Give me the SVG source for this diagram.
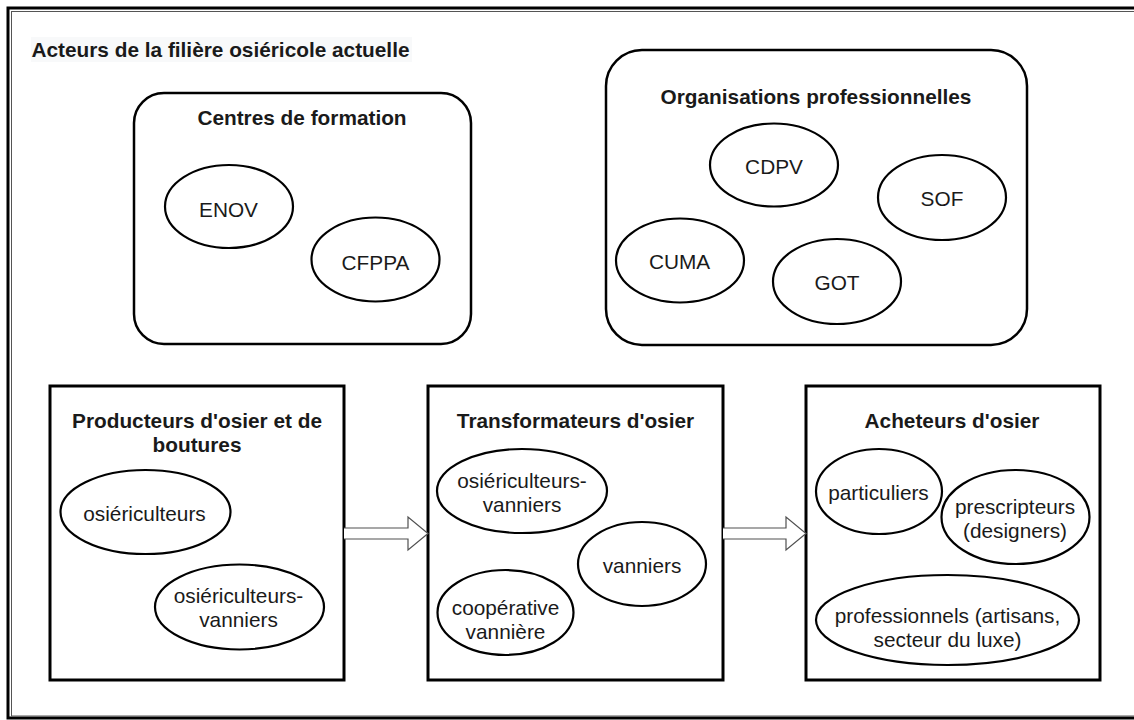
<svg xmlns="http://www.w3.org/2000/svg" width="1134" height="720" viewBox="0 0 1134 720">
<style>
text{font-family:"Liberation Sans",Arial,sans-serif;fill:#1a1a1a;text-anchor:middle}
.t{font-size:20.8px;font-weight:bold}
.l{font-size:20.8px}
.ell{fill:#fff;stroke:#000;stroke-width:2.2}
.box{fill:#fff;stroke:#000;stroke-width:3}
.grp{fill:#fff;stroke:#000;stroke-width:2.5}
.arr{fill:#fff;stroke:#505050;stroke-width:1.2}
</style>
<rect x="0" y="0" width="1134" height="720" fill="#fff"/>
<rect x="8" y="8" width="1140" height="710" fill="none" stroke="#000" stroke-width="3"/>
<rect x="11.5" y="11.5" width="1130" height="704.5" fill="none" stroke="#555" stroke-width="1"/>
<g id="title">
<rect x="31" y="37" width="381" height="25" fill="#f8f9fa"/>
<text class="t" x="31.5" y="56.5" style="text-anchor:start">Acteurs de la filière osiéricole actuelle</text>
</g>
<g id="centres">
<rect class="grp" x="134" y="93" width="337" height="251" rx="30" ry="30"/>
<text class="t" x="302" y="125">Centres de formation</text>
</g>
<g id="enov"><ellipse class="ell" cx="229" cy="206.5" rx="64" ry="41.5"/><text class="l" x="228.5" y="216.5">ENOV</text></g>
<g id="cfppa"><ellipse class="ell" cx="375.5" cy="259.5" rx="64" ry="42"/><text class="l" x="375.5" y="269.5">CFPPA</text></g>
<g id="organisations">
<rect class="grp" x="606" y="50" width="421" height="295" rx="36" ry="36"/>
<text class="t" x="816" y="104">Organisations professionnelles</text>
</g>
<g id="cdpv"><ellipse class="ell" cx="774" cy="165" rx="64" ry="41.5"/><text class="l" x="774" y="174">CDPV</text></g>
<g id="sof"><ellipse class="ell" cx="942" cy="197.5" rx="64" ry="42.5"/><text class="l" x="942" y="205.5">SOF</text></g>
<g id="cuma"><ellipse class="ell" cx="680" cy="260.5" rx="64" ry="42"/><text class="l" x="679.5" y="268.5">CUMA</text></g>
<g id="got"><ellipse class="ell" cx="837" cy="281.5" rx="64" ry="42.5"/><text class="l" x="837" y="290">GOT</text></g>
<g id="producteurs">
<rect class="box" x="50" y="386" width="294" height="294"/>
<text class="t" x="197" y="427.5">Producteurs d'osier et de</text>
<text class="t" x="197" y="452">boutures</text>
</g>
<g id="prod-osiericulteurs"><ellipse class="ell" cx="145.5" cy="512" rx="85" ry="42"/><text class="l" x="144.5" y="520.5">osiériculteurs</text></g>
<g id="prod-osiericulteurs-vanniers"><ellipse class="ell" cx="239.5" cy="607" rx="84.5" ry="42.5"/><text class="l" x="238.5" y="603">osiériculteurs-</text><text class="l" x="238.5" y="627">vanniers</text></g>
<g id="transformateurs">
<rect class="box" x="428" y="386" width="295" height="294"/>
<text class="t" x="575.5" y="427.5">Transformateurs d'osier</text>
</g>
<g id="trans-osiericulteurs-vanniers"><ellipse class="ell" cx="522" cy="491" rx="85" ry="42"/><text class="l" x="522" y="488">osiériculteurs-</text><text class="l" x="522" y="512">vanniers</text></g>
<g id="vanniers"><ellipse class="ell" cx="642" cy="564" rx="64" ry="42"/><text class="l" x="642" y="573">vanniers</text></g>
<g id="cooperative"><ellipse class="ell" cx="505.5" cy="612.5" rx="68" ry="42.5"/><text class="l" x="505.5" y="614.5">coopérative</text><text class="l" x="505.5" y="638.5">vannière</text></g>
<g id="acheteurs">
<rect class="box" x="806" y="386" width="294" height="294"/>
<text class="t" x="952" y="427.5">Acheteurs d'osier</text>
</g>
<g id="particuliers"><ellipse class="ell" cx="879" cy="491.5" rx="63" ry="42.5"/><text class="l" x="878.5" y="499.5">particuliers</text></g>
<g id="prescripteurs"><ellipse class="ell" cx="1015.5" cy="517" rx="74" ry="47"/><text class="l" x="1015" y="513.5">prescripteurs</text><text class="l" x="1015" y="538">(designers)</text></g>
<g id="professionnels"><ellipse class="ell" cx="947.5" cy="620" rx="131.5" ry="45"/><text class="l" x="947.5" y="623">professionnels (artisans,</text><text class="l" x="947.5" y="647">secteur du luxe)</text></g>
<g id="connectors">
<path class="arr" d="M344,528 L408,528 L408,517 L428,533.5 L408,550 L408,539 L344,539"/>
<path class="arr" d="M723,528 L786,528 L786,517 L806,533.5 L786,550 L786,539 L723,539"/>
</g>
</svg>
